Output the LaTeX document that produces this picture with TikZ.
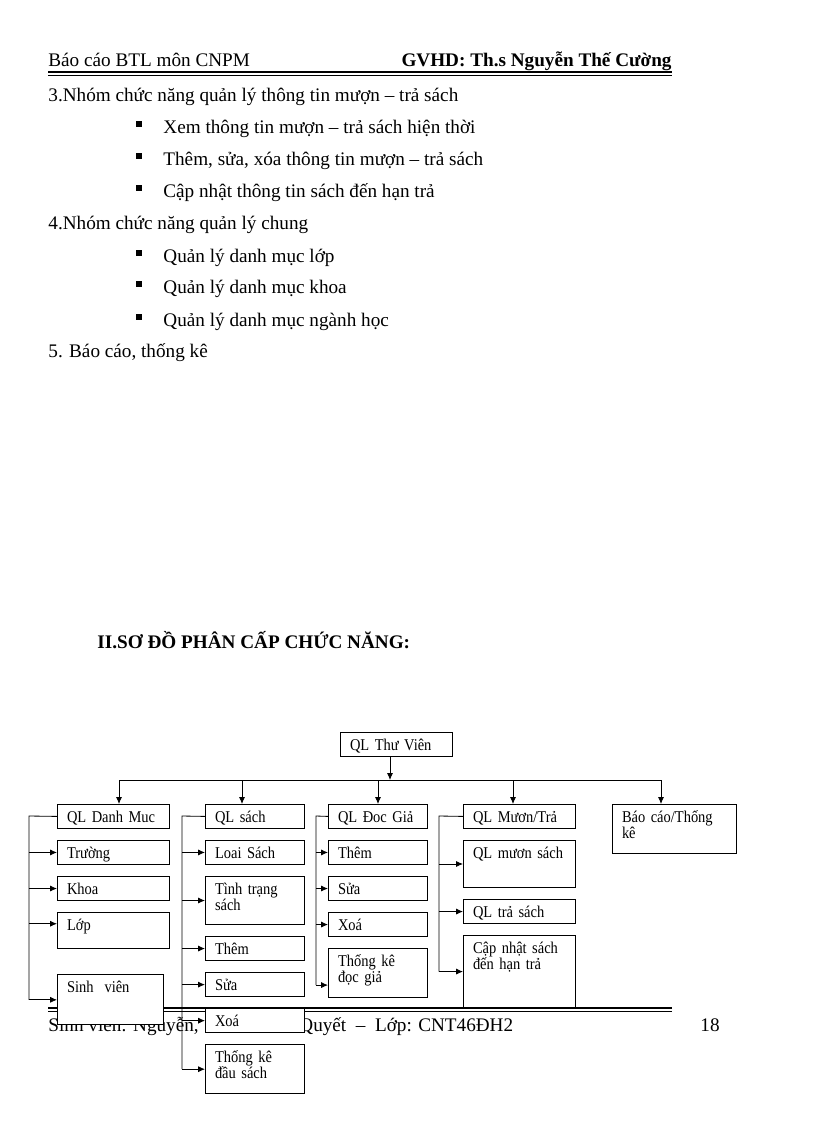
\documentclass[tikz,border=0pt]{standalone}
\usepackage{fontspec}
\setmainfont{Liberation Serif}
\newfontfamily\boxfont{Liberation Serif}[FakeStretch=0.88, WordSpace=0.8]
\usepackage{tikz}
\usetikzlibrary{positioning, arrows.meta}

\begin{document}
\begin{tikzpicture}[x=0.7295pt, y=-0.7295pt, >={Latex[length=5pt, width=4.4pt]}, line width=0.6pt,
    node distance=8.2pt]
    \tikzstyle{every node}=[font=\boxfont\fontsize{12pt}{11.7pt}\selectfont]
    \tikzset{
      txt/.style={anchor=base west, inner sep=0pt, font=\fontsize{14pt}{16pt}\selectfont},
      bold/.style={font=\fontsize{14pt}{16pt}\selectfont\bfseries},
      bul/.style={fill=black, rectangle, inner sep=0pt, minimum size=4.1pt},
      box/.style={draw=black, rectangle, fill=white, anchor=north west, align=left,
                  inner xsep=7pt, inner ysep=2.5pt, text height=10.5pt, text depth=2pt},
      wide/.style={box, text width=67.4pt},
      narrow/.style={box, text width=58.2pt},
      rule/.style={line width=0.8pt}
    }
    \useasboundingbox[fill=white] (0,0) rectangle (816,1123);

    % header
    \node[txt] (hleft) at (48,66) {Báo cáo BTL môn CNPM};
    \node[txt, bold, anchor=base east] (hright) at (672,66) {GVHD: Th.s Nguyễn Thế Cường};
    \draw[rule] (48,72) -- (672,72);
    \draw[line width=0.4pt] (48,75) -- (672,75);

    % text of the page
    \node[txt] (g3) at (48,101) {3.Nhóm chức năng quản lý thông tin mượn – trả sách};
    \foreach \y/\t [count=\i] in {133/Xem thông tin mượn – trả sách hiện thời,
        165/{Thêm, sửa, xóa thông tin mượn – trả sách},
        197/Cập nhật thông tin sách đến hạn trả} {
      \node[bul] (b3\i) at (139,\y-9) {};
      \node[txt] (t3\i) at (163,\y) {\t};
    }
    \node[txt] (g4) at (48,229) {4.Nhóm chức năng quản lý chung};
    \foreach \y/\t [count=\i] in {262/Quản lý danh mục lớp,
        293/Quản lý danh mục khoa,
        326/Quản lý danh mục ngành học} {
      \node[bul] (b4\i) at (139,\y-9) {};
      \node[txt] (t4\i) at (163,\y) {\t};
    }
    \node[txt] (g5) at (48,357) {5. Báo cáo, thống kê};
    \node[txt, bold] (sec) at (97,648) {II.SƠ ĐỒ PHÂN CẤP CHỨC NĂNG:};

    % footer
    \draw[rule] (48,1008) -- (672,1008);
    \draw[line width=0.4pt] (48,1011) -- (672,1011);
    \node[txt] (fleft) at (48,1031) {Sinh viên: Nguyễn,};
    \node[txt] (fmid) at (299,1031) {Quyết \ – \ Lớp: CNT46ĐH2};
    \node[txt] (fpage) at (700,1031) {18};

    % diagram
    \node[wide] (tv) at (340,732) {QL Thư Viên};
    \node[wide] (dm) at (57,804) {QL Danh Muc};
    \node[narrow] (qs) at (205,804) {QL sách};
    \node[narrow] (dg) at (328,804) {QL Đoc Giả};
    \node[wide] (mt) at (463,804) {QL Mươn/Trả};
    \node[box, text width=76.5pt, text depth=20.2pt] (bc) at (612,804) {Báo cáo/Thống\\kê};

    \node[wide, below=of dm] (tr) {Trường};
    \node[wide, below=of tr] (kh) {Khoa};
    \node[wide, below=of kh, text depth=10.8pt] (lop) {Lớp};
    \node[box, text width=63.3pt, text depth=21pt, below=18.5pt of lop.south west, anchor=north west] (sv) {Sinh \ viên};

    \node[narrow, below=of qs] (ls) {Loai Sách};
    \node[narrow, below=of ls, text depth=19.5pt] (tt) {Tình trạng\\sách};
    \node[narrow, below=of tt] (them2) {Thêm};
    \node[narrow, below=of them2] (sua2) {Sửa};
    \node[narrow, below=of sua2] (xoa2) {Xoá};
    \node[narrow, below=of xoa2, text depth=20.2pt] (tkds) {Thống kê\\đầu sách};

    \node[narrow, below=of dg] (them3) {Thêm};
    \node[narrow, below=of them3] (sua3) {Sửa};
    \node[narrow, below=of sua3] (xoa3) {Xoá};
    \node[narrow, below=of xoa3, text depth=20.2pt] (tkdg) {Thống kê\\đọc giả};

    \node[wide, below=of mt, text depth=18.8pt] (qlm) {QL mươn sách};
    \node[wide, below=of qlm] (qlt) {QL trả sách};
    \node[wide, below=of qlt, text depth=37pt] (cn) {Cập nhật sách\\đến hạn trả};

    % top bar
    \coordinate (top) at (390,780);
    \coordinate (d1) at (119,780);
    \coordinate (d2) at (242,780);
    \coordinate (d3) at (378,780);
    \coordinate (d4) at (513,780);
    \coordinate (d5) at (661,780);
    \draw[->] (top |- tv.south) -- (top);
    \draw (d1) -- (d5);
    \foreach \d/\n in {d1/dm, d2/qs, d3/dg, d4/mt, d5/bc}
      \draw[->] (\d) -- (\d |- \n.north);

    % side bars
    \coordinate (lopin) at ([yshift=5pt]lop.west);
    \coordinate (tkdgin) at ([yshift=-8.75pt]tkdg.west);

    \coordinate (busA) at (29,816);
    \draw (dm.west) -- (busA) -- (busA |- sv.west);
    \foreach \n in {tr.west, kh.west, lopin, sv.west} \draw[->] (busA |- \n) -- (\n);

    \coordinate (busB) at (182,816);
    \draw (qs.west) -- (busB) -- (busB |- tkds.west);
    \foreach \n in {ls, tt, them2, sua2, xoa2, tkds} \draw[->] (busB |- \n.west) -- (\n.west);

    \coordinate (busC) at (316,816);
    \draw (dg.west) -- (busC) -- (busC |- tkdgin);
    \foreach \n in {them3.west, sua3.west, xoa3.west, tkdgin} \draw[->] (busC |- \n) -- (\n);

    \coordinate (busD) at (439,816);
    \draw (mt.west) -- (busD) -- (busD |- cn.west);
    \foreach \n in {qlm, qlt, cn} \draw[->] (busD |- \n.west) -- (\n.west);
\end{tikzpicture}
\end{document}
